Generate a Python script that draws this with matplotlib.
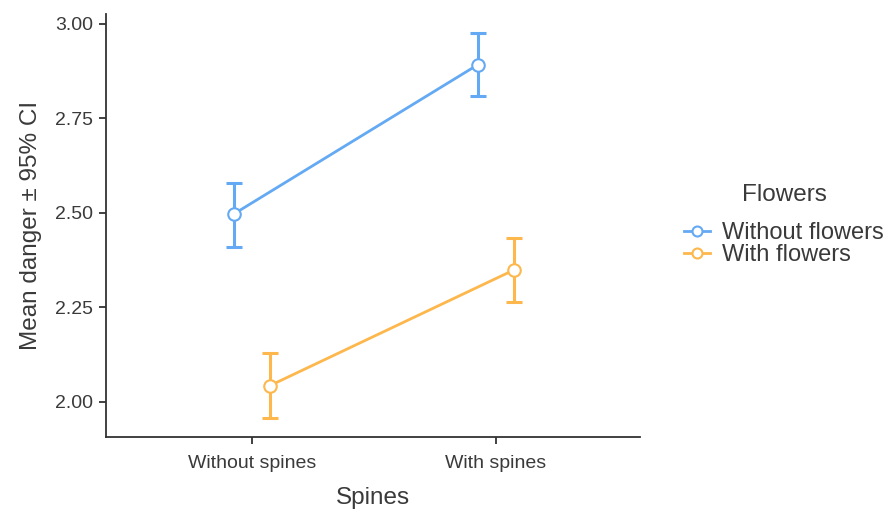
import matplotlib
matplotlib.use("Agg")
import matplotlib.pyplot as plt
import numpy as np

plt.rcParams['font.family'] = ['Liberation Sans', 'DejaVu Sans']

categories = ["Without spines", "With spines"]
series_names = ["Without flowers", "With flowers"]
legend_title = "Flowers"
means = {
    "Without flowers": [2.497, 2.892],
    "With flowers": [2.043, 2.349],
}
lower = {
    "Without flowers": [2.410, 2.808],
    "With flowers": [1.958, 2.265],
}
upper = {
    "Without flowers": [2.580, 2.977],
    "With flowers": [2.128, 2.434],
}
colors = {"Without flowers": "#64a9f3", "With flowers": "#fdb74c"}
offsets = {"Without flowers": -0.074, "With flowers": 0.074}

text_color = "#3a3a3a"

fig = plt.figure(figsize=(8.92, 5.12), dpi=100)
ax = fig.add_axes([0.1188, 0.1465, 0.5987, 0.8262])

x = np.arange(len(categories))
handles = []
for name in series_names:
    xs = x + offsets[name]
    m = np.array(means[name])
    lo = np.array(lower[name])
    hi = np.array(upper[name])
    c = colors[name]
    ax.errorbar(xs, m, yerr=[m - lo, hi - m], fmt='none', ecolor=c,
                elinewidth=2.2, capsize=6, capthick=2.2, zorder=2)
    h, = ax.plot(xs, m, '-o', color=c, lw=2.0, markersize=9,
                 markerfacecolor='white', markeredgecolor=c,
                 markeredgewidth=1.5, zorder=3, label=name)
    handles.append(h)

ax.set_xlim(-0.598, 1.59)
ax.set_ylim(1.907, 3.026)
ax.set_xticks(x)
ax.set_xticklabels(categories)
ax.set_yticks([2.00, 2.25, 2.50, 2.75, 3.00])
ax.set_yticklabels(["2.00", "2.25", "2.50", "2.75", "3.00"])

for s in ["top", "right"]:
    ax.spines[s].set_visible(False)
for s in ["left", "bottom"]:
    ax.spines[s].set_color("#333333")
    ax.spines[s].set_linewidth(1.3)

ax.tick_params(axis='both', colors="#333333", labelcolor=text_color,
               labelsize=14, length=5, width=1.3)
ax.tick_params(axis='x', pad=8)
ax.tick_params(axis='y', pad=4)

ax.set_xlabel("Spines", fontsize=17.5, color=text_color, labelpad=11)
ax.set_ylabel("Mean danger ± 95% CI", fontsize=17.5, color=text_color, labelpad=10)

fig.text(784 / 892, 1 - 195 / 512, legend_title, fontsize=17.5,
         color=text_color, ha='center', va='center')

leg = fig.legend(handles=handles, labels=series_names,
                 loc='center left', bbox_to_anchor=(0.7535, 1 - 244 / 512),
                 frameon=False, fontsize=17,
                 handlelength=1.1, handletextpad=0.5, labelspacing=0.0,
                 markerscale=0.8, borderpad=0.0)
for t in leg.get_texts():
    t.set_color(text_color)

fig.savefig("out.png", dpi=100, facecolor='white')
